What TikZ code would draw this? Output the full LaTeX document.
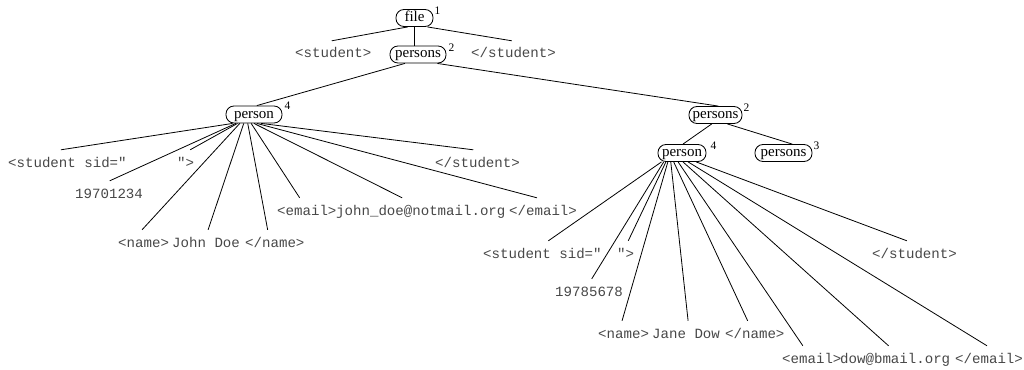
\documentclass[tikz,border=0pt]{standalone}
\usepackage{fontspec}
\setmainfont{Liberation Serif}
\setmonofont{Liberation Mono}
\usetikzlibrary{calc}
\begin{document}
\begin{tikzpicture}[x=1pt,y=-1pt,
  tn/.style={draw,rounded corners=8pt,line width=0.85pt,inner xsep=0pt,inner ysep=0pt,
    minimum height=17pt,font=\fontsize{15}{16}\selectfont,text height=10pt,text depth=3pt},
  lf/.style={inner xsep=0pt,inner ysep=8pt,anchor=base west,text=black!72,
    font=\ttfamily\fontsize{14.1}{16}\selectfont,text height=9pt,text depth=2pt},
  sp/.style={inner sep=0pt,font=\fontsize{11.5}{12}\selectfont},
  ln/.style={line width=0.8pt}]
\useasboundingbox (0,0) rectangle (1024,369);

% top part
\node[tn,minimum width=37pt] (file) at (414.5,18) {file};
\node[sp] (s1) at (437.5,11) {1};
\node[tn,minimum width=56pt] (p0) at (418,54.5) {persons};
\node[sp] (s2) at (451.5,48) {2};
\node[lf] (st0) at (295,58) {<student>};
\node[lf] (et0) at (471,58) {</student>};

% left person
\node[tn,minimum width=56pt] (pl) at (254,114.5) {person};
\node[sp] (s3) at (287.5,106) {4};
\node[lf] (a1) at (8,167) {<student sid="};
\node[lf] (a2) at (177,167) {">};
\node[lf] (a3) at (75,198) {19701234};
\node[lf] (a4) at (118,247) {<name>};
\node[lf] (a5) at (172,247) {John Doe};
\node[lf] (a6) at (245,247) {</name>};
\node[lf] (a7) at (277,215) {<email>};
\node[lf] (a8) at (336,215) {john\_doe@notmail.org};
\node[lf] (a9) at (509,215) {</email>};
\node[lf] (a10) at (435,167) {</student>};

% right part
\node[tn,minimum width=53pt] (pr2) at (715.5,115) {persons};
\node[sp] (s4) at (746.5,108) {2};
\node[tn,minimum width=48pt] (pr) at (682,153) {person};
\node[sp] (s5) at (713.5,146) {4};
\node[tn,minimum width=57pt] (ps3) at (783.5,153) {persons};
\node[sp] (s6) at (816.5,146) {3};
\node[lf] (b1) at (483,258) {<student sid="};
\node[lf] (b2) at (617,258) {">};
\node[lf] (b3) at (555,296) {19785678};
\node[lf] (b4) at (598,338) {<name>};
\node[lf] (b5) at (652,338) {Jane Dow};
\node[lf] (b6) at (725,338) {</name>};
\node[lf] (b7) at (782,363) {<email>};
\node[lf] (b8) at (840,363) {dow@bmail.org};
\node[lf] (b9) at (955,363) {</email>};
\node[lf] (b10) at (872,258) {</student>};

% connectors
\draw[ln] ($(file.south west)!0.32!(file.south east)$) -- ($(st0.north west)!0.48!(st0.north east)$);
\draw[ln] (file.south) -- (file.south |- p0.north);
\draw[ln] ($(file.south west)!0.84!(file.south east)$) -- ($(et0.north west)!0.48!(et0.north east)$);
\draw[ln] ($(p0.south west)!0.27!(p0.south east)$) -- ($(pl.north west)!0.55!(pl.north east)$);
\draw[ln] ($(p0.south west)!0.84!(p0.south east)$) -- ($(pr2.north west)!0.55!(pr2.north east)$);
\draw[ln] ($(pr2.south west)!0.43!(pr2.south east)$) -- ($(pr.north west)!0.52!(pr.north east)$);
\draw[ln] ($(pr2.south west)!0.72!(pr2.south east)$) -- ($(ps3.north west)!0.65!(ps3.north east)$);

\foreach \lf/\f/\g in {a1/0.125/0.445, a3/0.18/0.51, a2/0.21/0.76, a4/0.25/0.47,
    a5/0.32/0.53, a6/0.39/0.38, a7/0.45/0.38, a8/0.5/0.39, a9/0.55/0.41, a10/0.625/0.45}
  \draw[ln] ($(pl.south west)!\f!(pl.south east)$) -- ($(\lf.north west)!\g!(\lf.north east)$);

\foreach \lf/\f/\g in {b1/0.08/0.55, b3/0.125/0.54, b2/0.17/0.65, b4/0.21/0.47,
    b5/0.27/0.53, b6/0.33/0.38, b7/0.42/0.35, b8/0.52/0.44, b9/0.625/0.47, b10/0.79/0.41}
  \draw[ln] ($(pr.south west)!\f!(pr.south east)$) -- ($(\lf.north west)!\g!(\lf.north east)$);
\end{tikzpicture}
\end{document}
